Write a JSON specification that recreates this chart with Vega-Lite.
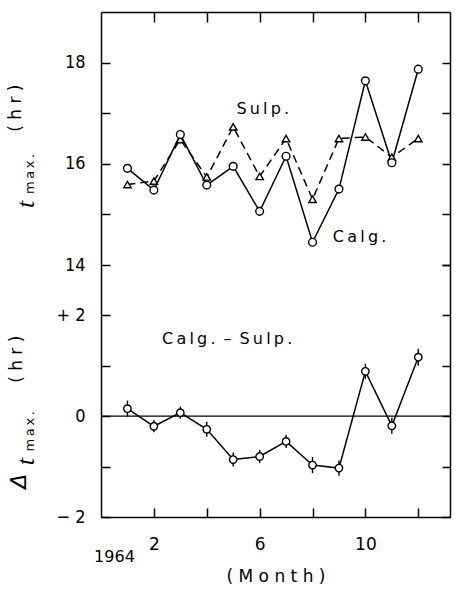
{
  "$schema": "https://vega.github.io/schema/vega-lite/v6.json",
  "autosize": {"type": "pad"},
  "padding": {"left": 7, "top": 11, "right": 7, "bottom": 6},
  "background": "white",
  "spacing": 0,
  "bounds": "flush",
  "config": {
    "view": {"stroke": null},
    "axis": {"grid": false, "domainColor": "black", "tickColor": "black", "labelColor": "black", "titleColor": "black", "domainWidth": 1.5, "tickWidth": 1.5},
    "text": {"color": "black", "baseline": "middle", "align": "center", "font": "DejaVu Sans"}
  },
  "datasets": {
    "tmax": [
      {"month": 1, "calg": 15.91, "sulp": 15.59},
      {"month": 2, "calg": 15.48, "sulp": 15.66},
      {"month": 3, "calg": 16.58, "sulp": 16.48},
      {"month": 4, "calg": 15.58, "sulp": 15.74},
      {"month": 5, "calg": 15.95, "sulp": 16.73},
      {"month": 6, "calg": 15.06, "sulp": 15.75},
      {"month": 7, "calg": 16.15, "sulp": 16.5},
      {"month": 8, "calg": 14.45, "sulp": 15.3},
      {"month": 9, "calg": 15.5, "sulp": 16.5},
      {"month": 10, "calg": 17.64, "sulp": 16.53},
      {"month": 11, "calg": 16.02, "sulp": 16.13},
      {"month": 12, "calg": 17.87, "sulp": 16.5}
    ],
    "diff": [
      {"month": 1, "diff": 0.15, "err": 0.16},
      {"month": 2, "diff": -0.2, "err": 0.12},
      {"month": 3, "diff": 0.07, "err": 0.12},
      {"month": 4, "diff": -0.26, "err": 0.15},
      {"month": 5, "diff": -0.86, "err": 0.14},
      {"month": 6, "diff": -0.8, "err": 0.13},
      {"month": 7, "diff": -0.5, "err": 0.13},
      {"month": 8, "diff": -0.97, "err": 0.16},
      {"month": 9, "diff": -1.03, "err": 0.15},
      {"month": 10, "diff": 0.89, "err": 0.15},
      {"month": 11, "diff": -0.19, "err": 0.16},
      {"month": 12, "diff": 1.17, "err": 0.17}
    ]
  },
  "vconcat": [
    {
      "width": 349,
      "height": 253,
      "data": {"name": "tmax"},
      "encoding": {
        "x": {
          "field": "month", "type": "quantitative",
          "scale": {"domain": [0, 13.2]},
          "axis": {"orient": "top", "values": [2, 4, 6, 8, 10, 12], "labels": false, "tickSize": -10, "title": null}
        }
      },
      "layer": [
        {
          "mark": {"type": "line", "color": "black", "strokeWidth": 1.5, "strokeDash": [8, 5]},
          "encoding": {
            "y": {
              "field": "sulp", "type": "quantitative", "scale": {"domain": [14, 19]},
              "axis": {
                "orient": "left", "values": [14, 15, 16, 17, 18],
                "labelExpr": "datum.value % 2 == 0 ? datum.label : ''",
                "tickSize": -9, "labelPadding": 25,
                "labelFont": "'DejaVu Sans Condensed', 'Liberation Sans', sans-serif", "labelFontSize": 18,
                "title": null
              }
            }
          }
        },
        {
          "mark": {"type": "line", "color": "black", "strokeWidth": 1.5},
          "encoding": {
            "y": {
              "field": "calg", "type": "quantitative", "scale": {"domain": [14, 19]},
              "axis": {"orient": "right", "values": [14, 15, 16, 17, 18], "labels": false, "tickSize": -8, "title": null}
            }
          }
        },
        {
          "mark": {"type": "point", "shape": "triangle-up", "filled": false, "fill": "white", "fillOpacity": 1, "stroke": "black", "strokeWidth": 1.4, "size": 55, "opacity": 1},
          "encoding": {"y": {"field": "sulp", "type": "quantitative", "scale": {"domain": [14, 19]}, "axis": null}}
        },
        {
          "mark": {"type": "point", "shape": "circle", "filled": false, "fill": "white", "fillOpacity": 1, "stroke": "black", "strokeWidth": 1.4, "size": 60, "opacity": 1},
          "encoding": {"y": {"field": "calg", "type": "quantitative", "scale": {"domain": [14, 19]}, "axis": null}}
        },
        {
          "data": {"values": [{"label": "S\u2009u\u2009l\u2009p\u2009.", "month": 6.12, "value": 17.08}]},
          "mark": {"type": "text", "fontSize": 16},
          "encoding": {
            "x": {"field": "month", "type": "quantitative", "scale": {"domain": [0, 13.2]}},
            "y": {"field": "value", "type": "quantitative", "scale": {"domain": [14, 19]}, "axis": null},
            "text": {"field": "label"}
          }
        },
        {
          "data": {"values": [{"label": "C\u2009a\u2009l\u2009g\u2009.", "month": 8.77, "value": 14.56}]},
          "mark": {"type": "text", "fontSize": 16, "align": "left"},
          "encoding": {
            "x": {"field": "month", "type": "quantitative", "scale": {"domain": [0, 13.2]}},
            "y": {"field": "value", "type": "quantitative", "scale": {"domain": [14, 19]}, "axis": null},
            "text": {"field": "label"}
          }
        },
        {
          "data": {"values": [{"label": "t", "month": -2.82, "value": 15.2}]},
          "mark": {"type": "text", "font": "Liberation Serif", "fontStyle": "italic", "fontSize": 26, "angle": 270},
          "encoding": {
            "x": {"field": "month", "type": "quantitative", "scale": {"domain": [0, 13.2]}},
            "y": {"field": "value", "type": "quantitative", "scale": {"domain": [14, 19]}, "axis": null},
            "text": {"field": "label"}
          }
        },
        {
          "data": {"values": [{"label": "m\u2009a\u2009x\u2009.", "month": -2.7, "value": 15.8}]},
          "mark": {"type": "text", "fontSize": 13, "angle": 270},
          "encoding": {
            "x": {"field": "month", "type": "quantitative", "scale": {"domain": [0, 13.2]}},
            "y": {"field": "value", "type": "quantitative", "scale": {"domain": [14, 19]}, "axis": null},
            "text": {"field": "label"}
          }
        },
        {
          "data": {"values": [{"label": "( h r )", "month": -3.2, "value": 17.1}]},
          "mark": {"type": "text", "fontSize": 17, "angle": 270},
          "encoding": {
            "x": {"field": "month", "type": "quantitative", "scale": {"domain": [0, 13.2]}},
            "y": {"field": "value", "type": "quantitative", "scale": {"domain": [14, 19]}, "axis": null},
            "text": {"field": "label"}
          }
        }
      ],
      "resolve": {"axis": {"y": "independent"}}
    },
    {
      "width": 349,
      "height": 252,
      "layer": [
        {
          "data": {"values": [{"label": "zero", "value": 0}]},
          "mark": {"type": "rule", "color": "black", "strokeWidth": 1.3},
          "encoding": {"y": {"field": "value", "type": "quantitative", "scale": {"domain": [-2, 3]}, "axis": null}}
        },
        {
          "data": {"name": "diff"},
          "encoding": {
            "x": {
              "field": "month", "type": "quantitative",
              "scale": {"domain": [0, 13.2]},
              "axis": {
                "orient": "bottom", "values": [2, 4, 6, 8, 10, 12],
                "labelExpr": "datum.value % 4 == 2 ? datum.label : ''",
                "tickSize": -9,
                "labelFont": "DejaVu Sans", "labelFontSize": 17, "labelPadding": 28,
                "title": "( M o n t h )", "titleFont": "DejaVu Sans", "titleFontSize": 17, "titleFontWeight": "normal", "titlePadding": 16
              }
            }
          },
          "layer": [
            {
              "mark": {"type": "errorbar", "color": "black", "thickness": 1.4},
              "encoding": {
                "y": {"field": "diff", "type": "quantitative", "scale": {"domain": [-2, 3]}, "axis": null},
                "yError": {"field": "err"}
              }
            },
            {
              "mark": {"type": "line", "color": "black", "strokeWidth": 1.5},
              "encoding": {
                "y": {
                  "field": "diff", "type": "quantitative", "scale": {"domain": [-2, 3]},
                  "axis": {
                    "orient": "left", "values": [-2, -1, 0, 1, 2],
                    "labelExpr": "datum.value == 2 ? '+ 2' : datum.value == 0 ? '0' : datum.value == -2 ? '\u2212 2' : ''",
                    "tickSize": -9, "labelPadding": 25,
                    "labelFont": "'DejaVu Sans Condensed', 'Liberation Sans', sans-serif", "labelFontSize": 18,
                    "title": null
                  }
                }
              }
            },
            {
              "mark": {"type": "point", "shape": "circle", "filled": false, "fill": "white", "fillOpacity": 1, "stroke": "black", "strokeWidth": 1.4, "size": 55, "opacity": 1},
              "encoding": {
                "y": {
                  "field": "diff", "type": "quantitative", "scale": {"domain": [-2, 3]},
                  "axis": {"orient": "right", "values": [-2, -1, 0, 1, 2, 3], "labels": false, "tickSize": -8, "title": null}
                }
              }
            },
            {
              "data": {"values": [{"label": "C\u2009a\u2009l\u2009g\u2009.\u2002\u2013\u2002S\u2009u\u2009l\u2009p\u2009.", "month": 2.31, "value": 1.54}]},
              "mark": {"type": "text", "fontSize": 16, "align": "left"},
              "encoding": {
                "x": {"field": "month", "type": "quantitative", "scale": {"domain": [0, 13.2]}},
                "y": {"field": "value", "type": "quantitative", "scale": {"domain": [-2, 3]}, "axis": null},
                "text": {"field": "label"}
              }
            },
            {
              "data": {"values": [{"label": "1964", "month": 0.51, "value": -2.79}]},
              "mark": {"type": "text", "fontSize": 16},
              "encoding": {
                "x": {"field": "month", "type": "quantitative", "scale": {"domain": [0, 13.2]}},
                "y": {"field": "value", "type": "quantitative", "scale": {"domain": [-2, 3]}, "axis": null},
                "text": {"field": "label"}
              }
            },
            {
              "data": {"values": [{"label": "\u0394", "month": -3.1, "value": -1.29}]},
              "mark": {"type": "text", "fontStyle": "italic", "fontSize": 22, "angle": 270},
              "encoding": {
                "x": {"field": "month", "type": "quantitative", "scale": {"domain": [0, 13.2]}},
                "y": {"field": "value", "type": "quantitative", "scale": {"domain": [-2, 3]}, "axis": null},
                "text": {"field": "label"}
              }
            },
            {
              "data": {"values": [{"label": "t", "month": -2.82, "value": -0.9}]},
              "mark": {"type": "text", "font": "Liberation Serif", "fontStyle": "italic", "fontSize": 26, "angle": 270},
              "encoding": {
                "x": {"field": "month", "type": "quantitative", "scale": {"domain": [0, 13.2]}},
                "y": {"field": "value", "type": "quantitative", "scale": {"domain": [-2, 3]}, "axis": null},
                "text": {"field": "label"}
              }
            },
            {
              "data": {"values": [{"label": "m\u2009a\u2009x\u2009.", "month": -2.7, "value": -0.3}]},
              "mark": {"type": "text", "fontSize": 13, "angle": 270},
              "encoding": {
                "x": {"field": "month", "type": "quantitative", "scale": {"domain": [0, 13.2]}},
                "y": {"field": "value", "type": "quantitative", "scale": {"domain": [-2, 3]}, "axis": null},
                "text": {"field": "label"}
              }
            },
            {
              "data": {"values": [{"label": "( h r )", "month": -3.17, "value": 1.13}]},
              "mark": {"type": "text", "fontSize": 17, "angle": 270},
              "encoding": {
                "x": {"field": "month", "type": "quantitative", "scale": {"domain": [0, 13.2]}},
                "y": {"field": "value", "type": "quantitative", "scale": {"domain": [-2, 3]}, "axis": null},
                "text": {"field": "label"}
              }
            }
          ],
          "resolve": {"axis": {"y": "independent"}}
        }
      ],
      "resolve": {"axis": {"y": "independent"}}
    }
  ]
}
